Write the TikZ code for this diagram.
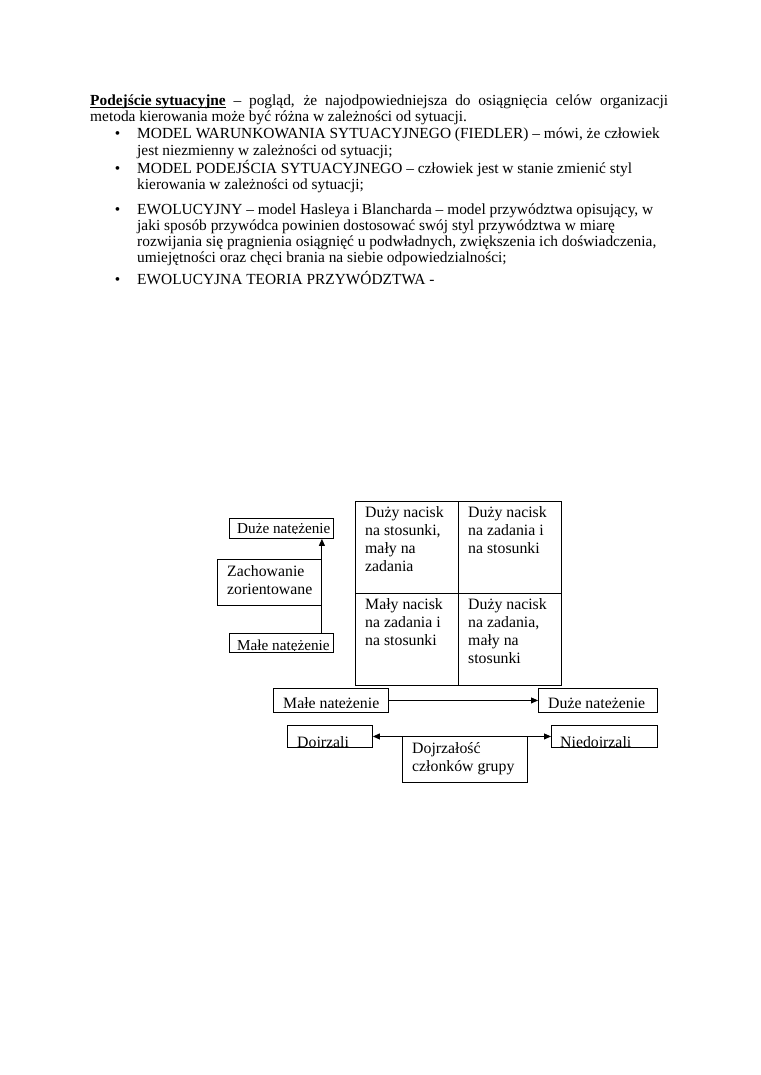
\documentclass[tikz,border=0pt]{standalone}
\usepackage{fontspec}
\setmainfont{Liberation Serif}
\usetikzlibrary{arrows.meta}
\newcommand{\fs}{\fontsize{15.4}{18}\selectfont}
\newcommand{\fd}{\fontsize{15.8}{18}\selectfont}
\newcommand{\fsm}{\fontsize{15.2}{18}\selectfont}
\tikzset{
  txt/.style={inner sep=0pt, anchor=base west, font=\fs},
  dtxt/.style={inner sep=0pt, anchor=base west, font=\fd},
  stxt/.style={inner sep=0pt, anchor=base west, font=\fsm},
  box/.style={draw, line width=0.9pt, inner sep=0pt, anchor=north west},
  arr/.style={line width=0.9pt, -{Triangle[length=7pt,width=6pt]}},
  darr/.style={line width=0.9pt, {Triangle[length=7pt,width=6pt]}-{Triangle[length=7pt,width=6pt]}},
  bul/.style={inner sep=0pt, anchor=base, font=\fs},
}
\begin{document}
\begin{tikzpicture}[x=1pt,y=-1pt]
\fill[white] (0,0) rectangle (760,1075);
\useasboundingbox (0,0) rectangle (760,1075);

% ---- text ----
\node[txt] (l1) at (90,105.5) {\makebox[578pt][s]{\underline{\smash{\textbf{Podejście sytuacyjne}}} – pogląd, że najodpowiedniejsza do osiągnięcia celów organizacji}};
\node[txt] (l2) at (90,121.5) {metoda kierowania może być różna w zależności od sytuacji.};
\node[bul] (b1) at (117.5,138.5) {•};
\node[txt] (l3) at (137,138.5) {MODEL WARUNKOWANIA SYTUACYJNEGO (FIEDLER) – mówi, że człowiek};
\node[txt] (l4) at (137,155.5) {jest niezmienny w zależności od sytuacji;};
\node[bul] (b2) at (117.5,173.3) {•};
\node[txt] (l5) at (137,173.3) {MODEL PODEJŚCIA SYTUACYJNEGO – człowiek jest w stanie zmienić styl};
\node[txt] (l6) at (137,190) {kierowania w zależności od sytuacji;};
\node[bul] (b3) at (117.5,214.3) {•};
\node[txt] (l7) at (137,214.3) {EWOLUCYJNY – model Hasleya i Blancharda – model przywództwa opisujący, w};
\node[txt] (l8) at (137,230.7) {jaki sposób przywódca powinien dostosować swój styl przywództwa w miarę};
\node[txt] (l9) at (137,246.7) {rozwijania się pragnienia osiągnięć u podwładnych, zwiększenia ich doświadczenia,};
\node[txt] (l10) at (137,262.7) {umiejętności oraz chęci brania na siebie odpowiedzialności;};
\node[bul] (b4) at (117.5,284.3) {•};
\node[txt] (l11) at (137,284.3) {EWOLUCYJNA TEORIA PRZYWÓDZTWA -};

% ---- grid ----
\node[box, minimum width=103pt, minimum height=92pt] (c11) at (355,501) {};
\node[box, minimum width=103pt, minimum height=92pt] (c12) at (458,501) {};
\node[box, minimum width=103pt, minimum height=92pt] (c21) at (355,593) {};
\node[box, minimum width=103pt, minimum height=92pt] (c22) at (458,593) {};
\node[dtxt, anchor=north west, align=left] (t11) at ([xshift=10pt,yshift=-5pt]c11.north west) {Duży nacisk\\na stosunki,\\mały na\\zadania};
\node[dtxt, anchor=north west, align=left] (t12) at ([xshift=10pt,yshift=-5pt]c12.north west) {Duży nacisk\\na zadania i\\na stosunki};
\node[dtxt, anchor=north west, align=left] (t21) at ([xshift=10pt,yshift=-5pt]c21.north west) {Mały nacisk\\na zadania i\\na stosunki};
\node[dtxt, anchor=north west, align=left] (t22) at ([xshift=10pt,yshift=-5pt]c22.north west) {Duży nacisk\\na zadania,\\mały na\\stosunki};

% ---- left column ----
\node[box, minimum width=104pt, minimum height=20pt] (dn1) at (229,518) {};
\begin{scope}
\clip (dn1.north west) rectangle (dn1.east |- 0,533);
\node[stxt] (dn1t) at ([xshift=8pt]dn1.west |- 0,533.5) {Duże natężenie};
\end{scope}
\node[box, minimum width=104pt, minimum height=46pt] (zach) at (217,559) {};
\node[dtxt, anchor=north west, align=left] (zacht) at ([xshift=10pt,yshift=-6pt]zach.north west) {Zachowanie\\zorientowane};
\node[box, minimum width=104pt, minimum height=19pt] (mn1) at (229,633) {};
\begin{scope}
\clip (mn1.north west) rectangle (mn1.east |- 0,650);
\node[stxt] (mn1t) at ([xshift=8pt]mn1.west |- 0,650.5) {Małe natężenie};
\end{scope}
\draw[arr] (zach.east |- mn1.north) -- (zach.east |- dn1.south);

% ---- bottom rows ----
\node[box, minimum width=115pt, minimum height=24pt] (mn2) at (273,688) {};
\begin{scope}
\clip (mn2.north west) rectangle (mn2.east |- 0,707.5);
\node[dtxt] (mn2t) at ([xshift=10pt]mn2.west |- 0,708) {Małe natężenie};
\end{scope}
\node[box, minimum width=119pt, minimum height=24pt] (dn2) at (538,688) {};
\begin{scope}
\clip (dn2.north west) rectangle (dn2.east |- 0,707.5);
\node[dtxt] (dn2t) at ([xshift=10pt]dn2.west |- 0,708) {Duże natężenie};
\end{scope}
\draw[arr] (mn2.east) -- (dn2.west);

\node[box, minimum width=85pt, minimum height=22pt] (dj) at (287,725) {};
\begin{scope}
\clip (dj.north west) rectangle (dj.east |- 0,746.5);
\node[dtxt] (djt) at ([xshift=10pt]dj.west |- 0,747) {Dojrzali};
\end{scope}
\node[box, minimum width=106pt, minimum height=22pt] (ndj) at (551,725) {};
\begin{scope}
\clip (ndj.north west) rectangle (ndj.east |- 0,746.5);
\node[dtxt] (ndjt) at ([xshift=9pt]ndj.west |- 0,747) {Niedojrzali};
\end{scope}
\draw[darr] (dj.east) -- (ndj.west);
\node[box, minimum width=125pt, minimum height=46pt] (doj) at (402,736) {};
\node[dtxt, anchor=north west, align=left] (dojt) at ([xshift=10pt,yshift=-6pt]doj.north west) {Dojrzałość\\członków grupy};
\end{tikzpicture}
\end{document}
